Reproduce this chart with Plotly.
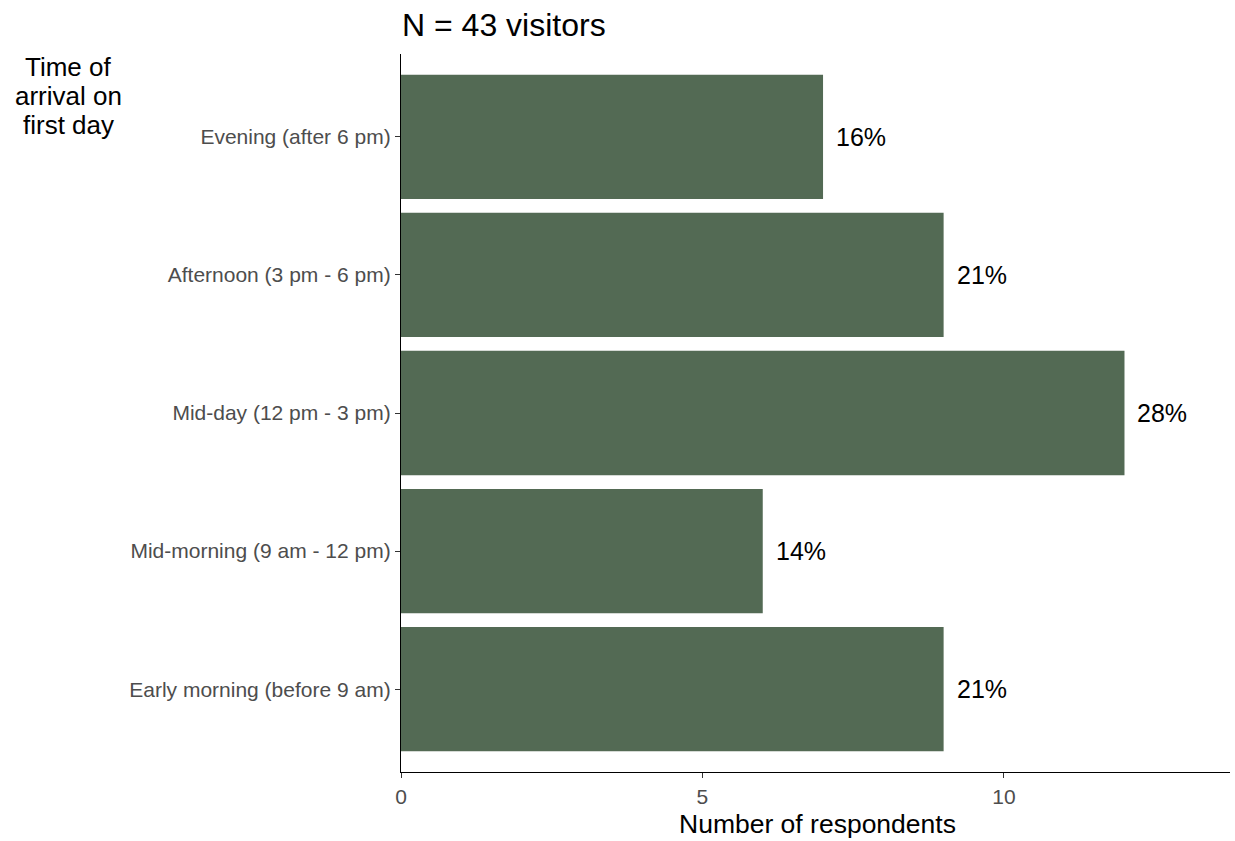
import plotly.graph_objects as go

categories = ["Early morning (before 9 am)", "Mid-morning (9 am - 12 pm)",
              "Mid-day (12 pm - 3 pm)", "Afternoon (3 pm - 6 pm)", "Evening (after 6 pm)"]
counts = [9, 6, 12, 9, 7]
pct_labels = ["21%", "14%", "28%", "21%", "16%"]
x_ticks = [0, 5, 10]
ytitle_lines = ["Time of", "arrival on", "first day"]
x_title = "Number of respondents"

FONT = "Liberation Sans, Arial, sans-serif"
BAR = "#536A54"

W, H = 1235, 841
L, R, T, B = 401, 5, 54, 69
PW, PH = W - L - R, H - T - B

fig = go.Figure()
fig.add_trace(go.Bar(
    x=counts, y=categories, orientation="h",
    marker=dict(color=BAR, line=dict(width=0)),
    width=0.9, hoverinfo="skip",
))

for c, v, t in zip(categories, counts, pct_labels):
    fig.add_annotation(x=v, y=c, text=t, showarrow=False, xanchor="left",
                       xshift=11, font=dict(family=FONT, size=25, color="black"))

for i, line in enumerate(ytitle_lines):
    fy = 67 + 29 * i
    fig.add_annotation(
        x=(68 - L) / PW, xref="paper", y=1 - (fy - T) / PH, yref="paper",
        text=line, showarrow=False, xanchor="center", yanchor="middle",
        font=dict(family=FONT, size=26, color="black"))

fig.add_annotation(
    x=(817 - L) / PW, xref="paper", y=1 - (824 - T) / PH, yref="paper",
    text=x_title, showarrow=False, xanchor="center", yanchor="middle",
    font=dict(family=FONT, size=26.5, color="black"))

fig.update_layout(
    width=W, height=H,
    margin=dict(l=L, r=R, t=T, b=B, autoexpand=False),
    paper_bgcolor="white", plot_bgcolor="white",
    showlegend=False, bargap=0.1,
    title=dict(text="N = 43 visitors", x=(L + 1) / W, xanchor="left",
               y=1 - 25 / H, yanchor="middle",
               font=dict(family=FONT, size=32, color="black")),
    xaxis=dict(range=[0, 13.75], tickvals=x_ticks, ticktext=[str(v) for v in x_ticks],
               automargin=False,
               showgrid=False, zeroline=False, showline=True, linecolor="black", linewidth=1.3,
               ticks="outside", ticklen=5, tickcolor="#333333", tickwidth=1,
               ticklabelstandoff=1,
               tickfont=dict(family=FONT, size=21, color="#4D4D4D")),
    yaxis=dict(range=[-0.6, 4.6], categoryorder="array", categoryarray=categories,
               automargin=False,
               showgrid=False, zeroline=False, showline=True, linecolor="black", linewidth=1.3,
               ticks="outside", ticklen=5, tickcolor="#333333", tickwidth=1,
               tickfont=dict(family=FONT, size=21, color="#4D4D4D")),
)

fig.write_html("out.html", config={"displayModeBar": False},
               post_script="document.body.style.margin='0';document.body.style.overflow='hidden';")
